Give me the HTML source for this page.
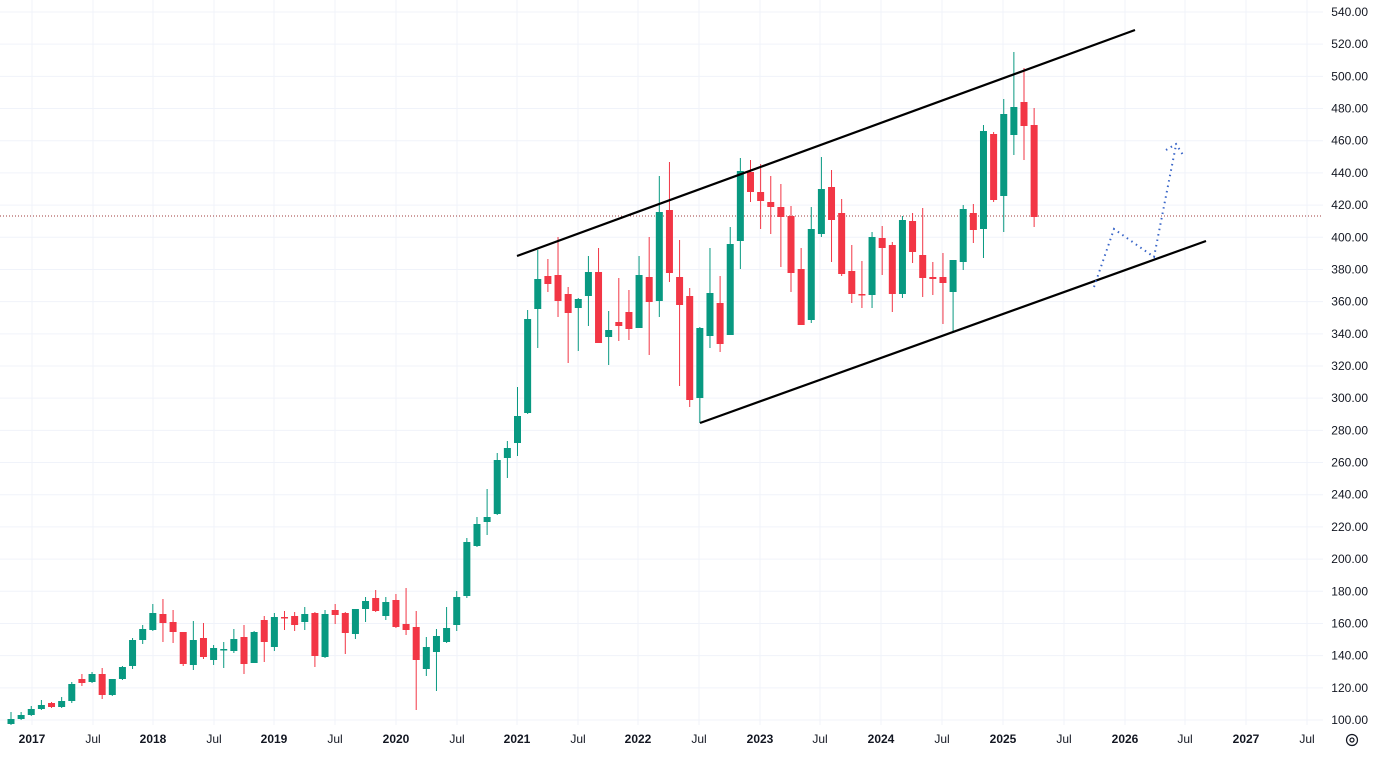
<!DOCTYPE html>
<html><head><meta charset="utf-8"><style>
html,body{margin:0;padding:0;background:#fff;}
svg{display:block;font-family:"Liberation Sans",sans-serif;}
</style></head><body>
<svg id="c" width="1375" height="757" xmlns="http://www.w3.org/2000/svg"></svg>
<script>
var s=document.getElementById('c'),h='';
function Y(v){return 720-(v-100)*1.6091;}
// horizontal grid + labels
for(var v=100;v<=540;v+=20){var y=Y(v);h+='<line x1="0" x2="1323" y1="'+y+'" y2="'+y+'" stroke="#f0f3fa" stroke-width="1"/>';
h+='<text x="1368" y="'+(y+4)+'" font-size="12" text-anchor="end" fill="#131722">'+v+'.00</text>';}
var xl=[[32,'2017',1],[93,'Jul'],[153,'2018',1],[214,'Jul'],[274,'2019',1],[335,'Jul'],[396,'2020',1],[457,'Jul'],[517,'2021',1],[578,'Jul'],[638,'2022',1],[699,'Jul'],[760,'2023',1],[820,'Jul'],[881,'2024',1],[942,'Jul'],[1003,'2025',1],[1064,'Jul'],[1125,'2026',1],[1185,'Jul'],[1246,'2027',1],[1307,'Jul']];
xl.forEach(function(a){h+='<line x1="'+a[0]+'" x2="'+a[0]+'" y1="0" y2="725" stroke="#f0f3fa"/>';
h+='<text x="'+a[0]+'" y="743" font-size="12" text-anchor="middle" fill="#131722"'+(a[2]?' font-weight="bold"':'')+'>'+a[1]+'</text>';});
var d="g 712 719 724 725|g 712 715 719 720|g 706 709 715 716|g 700 705 709 710|r 702 703 707 708|g 697 701 707 708|g 682 684 701 703|r 674 679 683 686|g 672 674 682 683|r 668 674 695 699|g 679 679 695 696|g 666 667 679 680|g 638 640 666 669|g 625 629 640 644|g 604 613 630 631|r 599 614 623 642|r 610 622 632 643|r 632 632 664 666|g 621 640 665 670|r 623 638 657 659|g 645 648 660 665|g 642 649 650 668|g 629 639 651 653|r 625 637 664 674|g 631 632 663 663|r 616 620 642 662|g 613 617 647 651|r 611 617 618 630|r 612 616 625 631|g 607 614 622 630|r 612 613 656 667|g 610 614 657 658|r 604 610 615 624|r 612 613 633 654|g 609 609 634 639|g 597 601 609 622|r 590 598 611 612|g 597 602 616 620|r 594 600 627 628|r 588 624 630 635|r 611 627 660 710|g 637 647 669 676|g 629 636 652 691|g 607 628 642 643|g 591 597 625 631|g 538 542 596 598|g 517 524 546 547|g 489 517 522 535|g 453 460 514 515|g 441 448 458 478|g 387 416 443 456|g 310 319 413 414|g 250 279 309 348|r 259 276 284 292|r 237 275 301 317|r 287 294 313 363|g 298 299 308 351|g 256 272 296 326|r 248 272 343 343|g 311 330 337 365|r 278 322 326 341|r 290 312 329 340|g 256 275 328 328|r 237 277 302 355|g 176 212 301 317|r 162 210 273 282|r 240 277 305 386|r 288 296 400 407|g 327 328 398 423|g 248 293 336 348|r 276 303 344 352|g 227 244 335 335|g 158 171 241 269|r 160 172 192 202|r 164 192 201 229|r 176 202 207 234|r 184 207 217 267|r 206 216 273 292|r 248 269 325 325|g 207 229 320 323|g 157 189 234 237|r 170 187 220 262|r 199 213 274 276|r 245 271 294 303|r 261 294 295 308|g 232 237 295 308|r 226 238 248 275|r 242 245 294 312|g 216 220 294 298|r 213 221 252 263|r 208 255 278 297|r 262 277 279 295|r 253 277 283 324|g 260 260 292 333|g 205 209 262 270|r 204 213 230 243|g 125 131 229 258|r 132 134 200 202|g 99 114 196 232|g 52 107 135 155|r 68 102 126 160|r 108 125 217 227".split('|');
h+='<line x1="0" x2="1323" y1="216" y2="216" stroke="#9c3b3b" stroke-width="1" stroke-dasharray="1,2"/>';
d.forEach(function(r,i){var p=r.split(' '),c=p[0]=='g'?'#089981':'#f23645',x=11+i*10.13;
var hi=+p[1],t=+p[2],b=+p[3],lo=+p[4];if(b-t<1.5)b=t+1.5;
h+='<line x1="'+x+'" x2="'+x+'" y1="'+hi+'" y2="'+lo+'" stroke="'+c+'" stroke-width="1"/>';
h+='<rect x="'+(x-3.5)+'" y="'+t+'" width="7" height="'+(b-t)+'" fill="'+c+'"/>';});
h+='<line x1="517" y1="256" x2="1135" y2="30" stroke="#000" stroke-width="2.2"/>';
h+='<line x1="700" y1="423" x2="1206" y2="241" stroke="#000" stroke-width="2.2"/>';
h+='<polyline points="1094,287 1114,229 1154,257 1176,145" fill="none" stroke="#3a66c8" stroke-width="2" stroke-dasharray="1.5,4"/>';
h+='<polyline points="1166,150 1176,144 1183,155" fill="none" stroke="#3a66c8" stroke-width="2" stroke-dasharray="1.5,4"/>';
h+='<circle cx="1352" cy="740" r="5.5" fill="none" stroke="#131722" stroke-width="1.2"/><circle cx="1352" cy="740" r="2" fill="none" stroke="#131722" stroke-width="1.2"/>';
s.innerHTML=h;
</script>
</body></html>
